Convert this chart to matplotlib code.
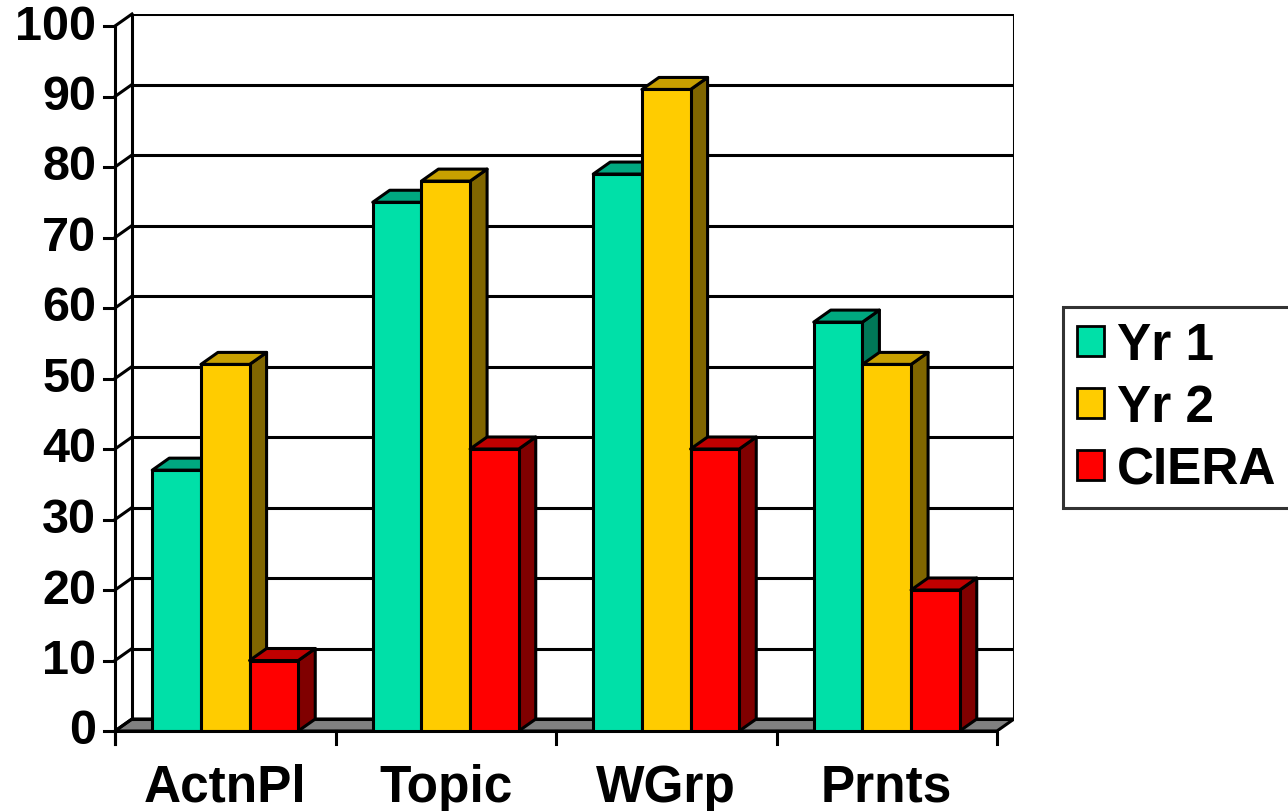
import matplotlib.pyplot as plt
from matplotlib.patches import Polygon, Rectangle, Patch

plt.rcParams['font.family'] = ['Liberation Sans', 'DejaVu Sans']
plt.rcParams['font.weight'] = 'bold'

categories = ['ActnPl', 'Topic', 'WGrp', 'Prnts']
series = ['Yr 1', 'Yr 2', 'CIERA']
yr1 = [37, 75, 79, 58]
yr2 = [52, 78, 91, 52]
ciera = [10, 40, 40, 20]
y_ticks = [0, 10, 20, 30, 40, 50, 60, 70, 80, 90, 100]

# front, top and side shades for each series
shades = [
    ('#00E0A8', '#00A880', '#007858'),
    ('#FFCC00', '#C8A000', '#806600'),
    ('#FF0000', '#C00000', '#800000'),
]

W, H = 1288, 812
fig = plt.figure(figsize=(W / 100, H / 100), dpi=100)

# pixel frame of the front plane and depth offset of the back wall
x_front0, x_front1 = 115, 997
y_zero, y_top = 732, 27
depth_px = (17, 12)

n = len(categories)
DX = n * depth_px[0] / (x_front1 - x_front0)
DY = 100 * depth_px[1] / (y_zero - y_top)

ax = fig.add_axes([x_front0 / W, (H - y_zero) / H,
                   (x_front1 + depth_px[0] - x_front0) / W,
                   (y_zero - y_top + depth_px[1]) / H])
ax.set_xlim(0, n + DX)
ax.set_ylim(0, 100 + DY)
ax.axis('off')

lw = 2.2
blk = 'black'

# floor
ax.add_patch(Polygon([(0, 0), (n, 0), (n + DX, DY), (DX, DY)],
                     closed=True, facecolor='#808080', edgecolor=blk, lw=lw, zorder=1))

# back wall gridlines and left wall slants
for v in y_ticks:
    ax.plot([DX, n + DX], [v + DY, v + DY], color=blk, lw=lw, zorder=1)
    ax.plot([0, DX], [v, v + DY], color=blk, lw=lw, zorder=1, clip_on=False)
    ax.plot([-0.05, 0], [v, v], color=blk, lw=lw, zorder=1, clip_on=False)
    ax.text(-0.085, v, str(v), ha='right', va='center', fontsize=35,
            fontweight='bold', clip_on=False)
ax.plot([DX, DX], [DY, 100 + DY], color=blk, lw=lw, zorder=1)
ax.plot([n + DX, n + DX], [DY, 100 + DY], color=blk, lw=lw, zorder=1)
ax.plot([0, 0], [-1.8, 100], color=blk, lw=lw, zorder=5, clip_on=False)
ax.plot([0, n], [0, 0], color=blk, lw=lw, zorder=5, clip_on=False)

# category ticks and labels
for i in range(n + 1):
    ax.plot([i, i], [0, -1.8], color=blk, lw=lw, zorder=5, clip_on=False)
for i, c in enumerate(categories):
    ax.text(i + 0.5, -4.5, c, ha='center', va='top', fontsize=37,
            fontweight='bold', clip_on=False)

# 3D bars
w = 0.2207
z = 2
for i in range(n):
    vals = [yr1[i], yr2[i], ciera[i]]
    for j, v in enumerate(vals):
        front, top, side = shades[j]
        x0 = i + 0.5 - 1.5 * w + j * w
        x1 = x0 + w
        ax.add_patch(Polygon([(x1, 0), (x1 + DX, DY), (x1 + DX, v + DY), (x1, v)],
                             closed=True, facecolor=side, edgecolor=blk, lw=lw,
                             joinstyle='round', zorder=z))
        ax.add_patch(Polygon([(x0, v), (x1, v), (x1 + DX, v + DY), (x0 + DX, v + DY)],
                             closed=True, facecolor=top, edgecolor=blk, lw=lw,
                             joinstyle='round', zorder=z))
        ax.add_patch(Rectangle((x0, 0), w, v, facecolor=front, edgecolor=blk,
                               lw=lw, joinstyle='round', zorder=z))
        z += 1

handles = [Patch(facecolor=s[0], edgecolor=blk, lw=2) for s in shades]
leg = fig.legend(handles, series, loc='upper left',
                 bbox_to_anchor=(1063 / W, 1 - 308 / H),
                 prop={'weight': 'bold', 'size': 37},
                 frameon=True, fancybox=False, edgecolor=blk,
                 handlelength=0.52, handleheight=0.52, handletextpad=0.25,
                 labelspacing=0.25, borderpad=0.28, borderaxespad=0)
leg.get_frame().set_linewidth(2.2)

fig.savefig('out.png', dpi=100)
